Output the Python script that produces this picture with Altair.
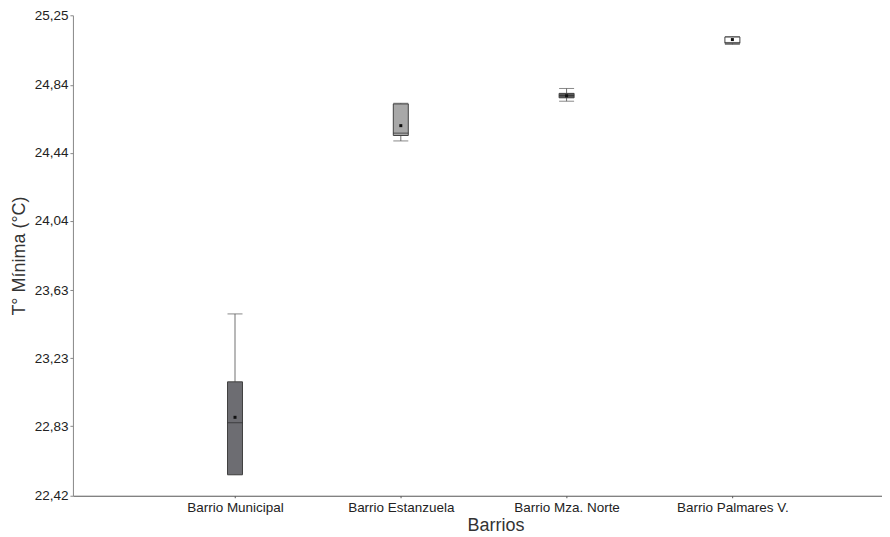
import altair as alt
import pandas as pd

barrios = ["Barrio Municipal", "Barrio Estanzuela", "Barrio Mza. Norte", "Barrio Palmares V."]
minimo = [22.544, 24.510, 24.744, 25.078]
q1 = [22.544, 24.542, 24.764, 25.085]
mediana = [22.850, 24.556, 24.777, 25.090]
q3 = [23.091, 24.728, 24.790, 25.122]
maximo = [23.491, 24.732, 24.819, 25.125]
media = [22.882, 24.600, 24.776, 25.107]
relleno = ["#6d6d72", "#a8a8a8", "#585858", "#ffffff"]
y_ticks = [22.42, 22.83, 23.23, 23.63, 24.04, 24.44, 24.84, 25.25]

df = pd.DataFrame({
    "barrio": barrios, "min": minimo, "q1": q1, "med": mediana,
    "q3": q3, "max": maximo, "mean": media, "fill": relleno,
})

xs = alt.Scale(type="point", domain=barrios, padding=0.94, align=0.52)
x = alt.X("barrio:N", scale=xs, sort=barrios,
          axis=alt.Axis(title="Barrios", labelAngle=0, tickSize=2, labelPadding=3,
                        titleFontSize=18, titleFontWeight="normal", labelFontSize=13.5,
                        titlePadding=2, titleX=423, titleAnchor="middle",
                        domainColor="#555555", tickColor="#555555",
                        labelColor="#222222", titleColor="#333333"))
ys = alt.Scale(domain=[22.42, 25.25], nice=False, zero=False)
y_axis = alt.Axis(title="T° Mínima (°C)", values=y_ticks, tickSize=3,
                  labelExpr="replace(format(datum.value, '.2f'), '.', ',')",
                  grid=False, labelFontSize=13.5, titleFontSize=18,
                  titleFontWeight="normal", domainColor="#888888", tickColor="#888888",
                  labelColor="#222222", titleColor="#333333", titlePadding=6)

base = alt.Chart(df)

whisk = base.mark_rule(color="#707070", strokeWidth=1).encode(
    x=x, y=alt.Y("min:Q", scale=ys, axis=y_axis), y2="max:Q")
box = base.mark_bar(size=15, stroke="#404040", strokeWidth=1).encode(
    x=x, y=alt.Y("q1:Q", scale=ys), y2="q3:Q",
    fill=alt.Fill("fill:N", scale=None))
cap_top = base.mark_tick(size=15, thickness=1, orient="horizontal", color="#555555").encode(
    x=x, y=alt.Y("max:Q", scale=ys))
cap_bot = base.mark_tick(size=15, thickness=1, orient="horizontal", color="#555555").encode(
    x=x, y=alt.Y("min:Q", scale=ys))
med = base.mark_tick(size=15, thickness=1, orient="horizontal", color="#2a2a2a").encode(
    x=x, y=alt.Y("med:Q", scale=ys))
mean = base.mark_square(size=9, color="#111111", opacity=1).encode(
    x=x, y=alt.Y("mean:Q", scale=ys))

chart = alt.layer(whisk, box, cap_top, cap_bot, med, mean).properties(
    width=810, height=481, padding={"left": 2, "top": 0, "right": 0, "bottom": 5}
).configure_view(stroke=None).configure_axis(
    labelFont="Liberation Sans", titleFont="Liberation Sans"
).configure_axisX(domain=True).configure_axisY(domain=True)

chart.save("out.html", embed_options={"renderer": "svg", "actions": False})
